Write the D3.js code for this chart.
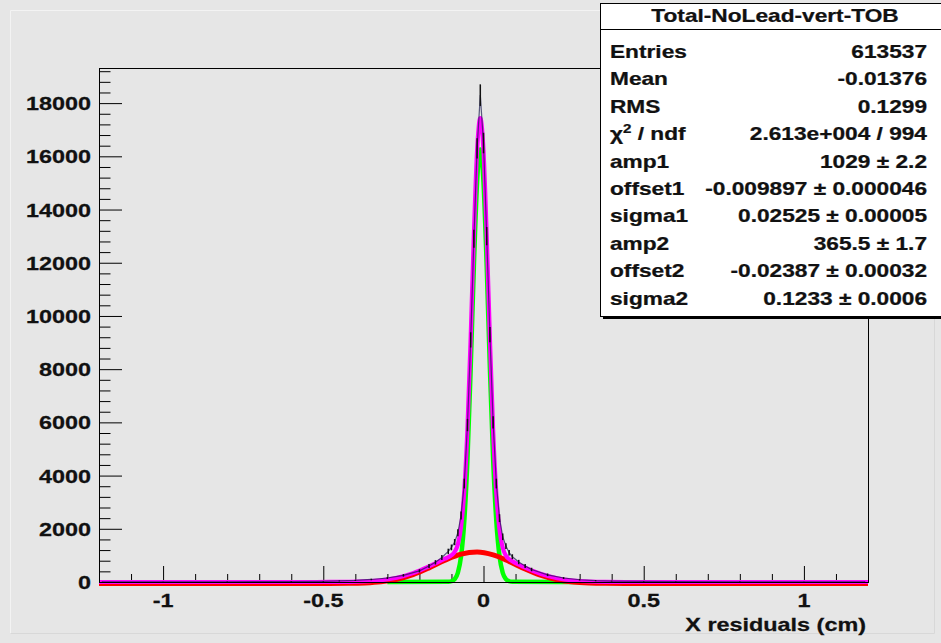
<!DOCTYPE html>
<html><head><meta charset="utf-8">
<script src="https://cdn.jsdelivr.net/npm/d3@7"></script>
<style>body{margin:0;background:#e6e6e6}svg{display:block}</style>
</head><body><svg id="c" width="941" height="643"></svg>
<script>
// ---------- data ----------
const histX = [-1.19,-1.0,-0.8,-0.6,-0.5,-0.45,-0.4,-0.35,-0.3,-0.25,-0.2,-0.17,-0.15,-0.13,-0.11,-0.10,-0.09,-0.08,-0.07,-0.06,-0.05,-0.04,-0.03,-0.02,-0.01,0.00,0.01,0.02,0.03,0.04,0.05,0.06,0.07,0.08,0.09,0.11,0.13,0.15,0.2,0.25,0.3,0.35,0.4,0.5,0.6,0.8,1.0,1.19];
const histY = [5,5,8,15,25,40,60,95,150,250,420,600,740,920,1150,1300,1500,1850,2500,3700,5900,9100,12900,16300,18300,16500,13000,9300,6000,3700,2400,1700,1350,1100,950,750,600,470,270,150,85,50,35,20,12,8,5,5];

const totalX = [-1.2,-0.52,-0.42,-0.37,-0.32,-0.27,-0.22,-0.17,-0.12,-0.11,-0.10,-0.09,-0.08,-0.07,-0.06,-0.05,-0.04,-0.03,-0.02,-0.01,0.00,0.01,0.02,0.03,0.04,0.05,0.06,0.07,0.08,0.09,0.13,0.18,0.23,0.28,0.33,0.38,0.48,1.2];
const totalY = [0,0,7,23,66,161,334,586,875,933,1006,1132,1415,2069,3422,5793,9200,13063,16217,17435,16195,13020,9137,5711,3323,1954,1286,991,857,779,543,301,142,57,19,6,0,0];

const narrowX = [-0.3,-0.11,-0.10,-0.09,-0.08,-0.07,-0.06,-0.05,-0.04,-0.03,-0.02,-0.01,0.00,0.01,0.02,0.03,0.04,0.05,0.06,0.07,0.08,0.09,0.3];
const narrowY = [0,6,28,107,348,966,2289,4636,8027,11881,15034,16260,15034,11881,8027,4636,2289,966,348,107,28,6,0];

const wideX = [-1.2,-0.52,-0.42,-0.37,-0.32,-0.27,-0.22,-0.17,-0.12,-0.07,-0.02,0.03,0.08,0.13,0.18,0.23,0.28,0.33,0.38,0.48,1.2];
const wideY = [0,0,7,23,66,161,334,586,874,1103,1183,1075,829,543,301,142,57,19,6,0,0];

const xTickValues = [-1,-0.5,0,0.5,1];
const xTickLabels = ["-1","-0.5","0","0.5","1"];
const yTickValues = [0,2000,4000,6000,8000,10000,12000,14000,16000,18000];
const yTickLabels = ["0","2000","4000","6000","8000","10000","12000","14000","16000","18000"];
const xTitle = "X residuals (cm)";

const statsTitle = "Total-NoLead-vert-TOB";
const statLabels = ["Entries","Mean","RMS","CHI","amp1","offset1","sigma1","amp2","offset2","sigma2"];
const statValues = ["613537","-0.01376","0.1299","2.613e+004 / 994","1029 \u00b1 2.2","-0.009897 \u00b1 0.000046","0.02525 \u00b1 0.00005","365.5 \u00b1 1.7","-0.02387 \u00b1 0.00032","0.1233 \u00b1 0.0006"];

// ---------- layout ----------
const svg = d3.select("#c");
const L = 99, R = 868, T = 68, B = 582;
const FS = 18;
const x = d3.scaleLinear().domain([-1.2, 1.2]).range([L, R]);
const y = d3.scaleLinear().domain([0, 19320]).range([B, T]);

svg.append("rect").attr("width",941).attr("height",643).attr("fill","#e6e6e6");
svg.append("path").attr("d","M10.5,633.5V10.5H934.5").attr("fill","none").attr("stroke","#f3f3f3");
svg.append("path").attr("d","M10.5,633.5H934.5V10.5").attr("fill","none").attr("stroke","#d8d8d8");

function txt(g, str, px, py, anchor, sx) {
  return g.append("text")
    .attr("transform", `translate(${px},${py}) scale(${sx || 1.3},1)`)
    .attr("text-anchor", anchor)
    .attr("font-family", "Liberation Sans, Arial, sans-serif")
    .attr("font-weight", "bold")
    .attr("font-size", FS)
    .attr("fill", "#111")
    .attr("stroke", "#111").attr("stroke-width", 0.25)
    .text(str);
}

// ---------- axes ticks ----------
const xMinor = d3.range(-11, 12).map(d => d / 10).filter(v => !xTickValues.some(t => Math.abs(t - v) < 1e-9));
const gx = svg.append("g").attr("transform", `translate(0,${B})`);
gx.call(d3.axisBottom(x).tickValues(xTickValues).tickSize(-16).tickFormat(""));
gx.call(g => g.select(".domain").remove());
const gxm = svg.append("g").attr("transform", `translate(0,${B})`);
gxm.call(d3.axisBottom(x).tickValues(xMinor).tickSize(-8).tickFormat(""));
gxm.call(g => g.select(".domain").remove());

const yMinor = d3.range(0, 19321, 400).filter(v => v % 2000 !== 0);
const gy = svg.append("g").attr("transform", `translate(${L},0)`);
gy.call(d3.axisLeft(y).tickValues(yTickValues).tickSize(-23).tickFormat(""));
gy.call(g => g.select(".domain").remove());
const gym = svg.append("g").attr("transform", `translate(${L},0)`);
gym.call(d3.axisLeft(y).tickValues(yMinor).tickSize(-11.5).tickFormat(""));
gym.call(g => g.select(".domain").remove());
svg.selectAll(".tick line").attr("stroke", "#000").attr("stroke-width", 1);

// tick labels
const lab = svg.append("g");
xTickValues.forEach((v, i) => txt(lab, xTickLabels[i], x(v), 607, "middle"));
yTickValues.forEach((v, i) => txt(lab, yTickLabels[i], 91, y(v) + 7, "end"));
txt(lab, xTitle, 866, 631, "end");

// ---------- curves ----------
const line = d3.line().x(d => x(d[0])).y(d => y(d[1])).curve(d3.curveMonotoneX);
const plot = svg.append("g");
plot.append("path").datum(d3.zip(narrowX, narrowY)).attr("d", line)
  .attr("fill", "none").attr("stroke", "#00ff00").attr("stroke-width", 4.5);
plot.append("path").datum(d3.zip(wideX, wideY)).attr("d", line)
  .attr("fill", "none").attr("stroke", "#ff0000").attr("stroke-width", 5)
  .attr("transform", "translate(0,1.5)");
plot.append("path").datum(d3.zip(totalX, totalY)).attr("d", line)
  .attr("fill", "none").attr("stroke", "#ff00ff").attr("stroke-width", 4.2);
// histogram
const hl = d3.line().x(d => x(d[0])).y(d => y(d[1]));
plot.append("path").datum(d3.zip(histX, histY)).attr("d", hl)
  .attr("fill", "none").attr("stroke", "#1a1a50").attr("stroke-width", 1.2).attr("stroke-opacity", 0.7);
plot.selectAll("line.err").data(d3.zip(histX, histY)).join("line").attr("class","err")
  .attr("x1", d => x(d[0])).attr("x2", d => x(d[0]))
  .attr("y1", d => y(d[1] + Math.sqrt(d[1]) * 3)).attr("y2", d => y(Math.max(0, d[1] - Math.sqrt(d[1]) * 3)))
  .attr("stroke", "#111").attr("stroke-width", 1.5);

// frame
svg.append("rect").attr("x", L + 0.5).attr("y", T + 0.5).attr("width", R - L).attr("height", B - T)
  .attr("fill", "none").attr("stroke", "#000").attr("stroke-width", 1);

// ---------- stats box ----------
const bx = 600, by = 3, bw = 360, bh = 313;
const SB = 1.26;
const sb = svg.append("g");
sb.append("rect").attr("x", bx + 3).attr("y", by + 3).attr("width", bw).attr("height", bh).attr("fill", "#000");
sb.append("rect").attr("x", bx + 0.5).attr("y", by + 0.5).attr("width", bw).attr("height", bh)
  .attr("fill", "#fff").attr("stroke", "#000").attr("stroke-width", 1);
sb.append("line").attr("x1", bx).attr("x2", bx + bw).attr("y1", 29.5).attr("y2", 29.5).attr("stroke", "#000");
txt(sb, statsTitle, 775, 22, "middle", SB);
statLabels.forEach((s, i) => {
  const yy = 58 + i * 27.4;
  if (s === "CHI") {
    const t = txt(sb, "", 610, yy, "start", SB);
    t.append("tspan").text("\u03c7");
    t.append("tspan").attr("dy", -7).attr("font-size", 12).text("2");
    t.append("tspan").attr("dy", 7).text(" / ndf");
  } else {
    txt(sb, s, 610, yy, "start", SB);
  }
  txt(sb, statValues[i], 927, yy, "end", SB);
});
</script></body></html>
